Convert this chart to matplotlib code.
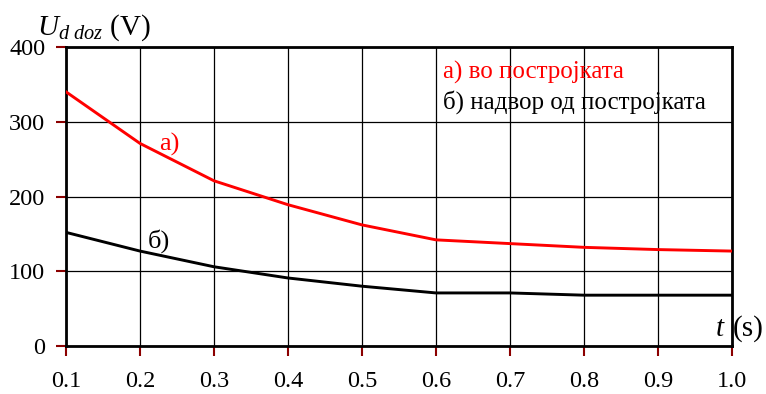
import matplotlib
matplotlib.use("Agg")
import matplotlib.pyplot as plt

t = [0.1, 0.2, 0.3, 0.4, 0.5, 0.6, 0.7, 0.8, 0.9, 1.0]
u_inside = [340, 271, 221, 189, 162, 142, 137, 132, 129, 127]
u_outside = [152, 127, 106, 91, 80, 71, 71, 68, 68, 68]
x_ticks = [0.1, 0.2, 0.3, 0.4, 0.5, 0.6, 0.7, 0.8, 0.9, 1.0]
x_labels = ["0.1", "0.2", "0.3", "0.4", "0.5", "0.6", "0.7", "0.8", "0.9", "1.0"]
y_ticks = [0, 100, 200, 300, 400]
y_labels = ["0", "100", "200", "300", "400"]
legend_a = "а) во постројката"
legend_b = "б) надвор од постројката"

plt.rcParams['font.family'] = ['Liberation Serif', 'DejaVu Serif']
plt.rcParams['mathtext.fontset'] = 'custom'
plt.rcParams['mathtext.it'] = 'Liberation Serif:italic'
plt.rcParams['mathtext.rm'] = 'Liberation Serif'

fig = plt.figure(figsize=(7.66, 3.94), dpi=100)
ax = fig.add_axes([0.0862, 0.1218, 0.8694, 0.7589])

ax.plot(t, u_inside, color='#ff0000', lw=2.1, zorder=3)
ax.plot(t, u_outside, color='black', lw=2.1, zorder=3)

ax.set_xlim(0.1, 1.0)
ax.set_ylim(0, 400)
ax.set_xticks(x_ticks)
ax.set_xticklabels(x_labels, fontsize=17.5)
ax.set_yticks(y_ticks)
ax.set_yticklabels(y_labels, fontsize=17.5)
ax.tick_params(axis='both', direction='out', length=7, width=1.5, color='#8b0000')
ax.tick_params(axis='x', pad=11)
ax.tick_params(axis='y', pad=8)

ax.grid(True, color='black', lw=0.9)
for s in ax.spines.values():
    s.set_linewidth(2.0)
    s.set_color('black')

ax.text(0.2257, 269, "а)", color='#ff0000', fontsize=19, ha='left', va='center')
ax.text(0.2108, 140.5, "б)", color='black', fontsize=19, ha='left', va='center')
ax.text(0.609, 366, legend_a, color='#ff0000', fontsize=18, ha='left', va='center')
ax.text(0.609, 326, legend_b, color='black', fontsize=18, ha='left', va='center')

fig.text(37 / 766, 1 - 28 / 394, r'$U_{d\ doz}$ (V)', fontsize=21, ha='left', va='center')
fig.text(726 / 766, 1 - 329 / 394, r'$t$', fontsize=21, ha='right', va='center')
fig.text(733 / 766, 1 - 329 / 394, '(s)', fontsize=21, ha='left', va='center')

fig.savefig("out.png", dpi=100)
